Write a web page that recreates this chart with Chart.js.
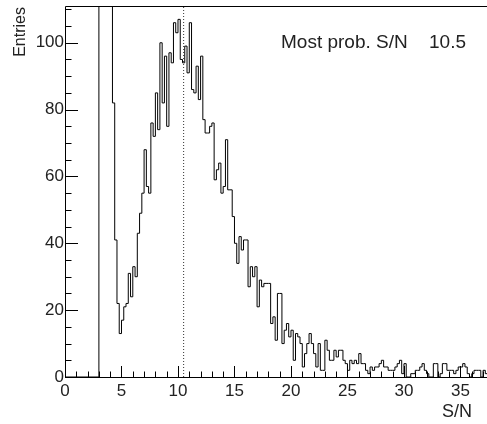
<!DOCTYPE html>
<html lang="en">
<head>
<meta charset="UTF-8">
<title>S/N distribution</title>
<script src="https://cdn.jsdelivr.net/npm/chart.js"></script>
<style>
  body { margin: 0; background: #fff; }
  #wrap { width: 487px; height: 424px; }
</style>
</head>
<body>
<div id="wrap"><canvas id="snChart"></canvas></div>
<script>
    // histogram of S/N, bins of 0.2 starting at 3.0 (first six bins are off scale)
    const binStart = 3.0
    const binWidth = 0.2
    const counts = [
        460, 330, 240, 180, 140, 118,
        82, 41, 22, 13, 17, 21, 22, 31, 24, 33,
        30, 43, 49, 55, 68, 57, 55, 76, 72, 85,
        74, 100, 82, 96, 75, 97, 94, 106, 103, 107,
        95, 94, 99, 91, 106, 86, 85, 93, 83, 96,
        77, 73, 73, 75, 76, 59, 62, 64, 55, 57,
        71, 56, 56, 48, 40, 34, 42, 38, 41, 41,
        27, 33, 30, 33, 21, 29, 27, 28, 28, 28,
        16, 18, 11, 25, 25, 10, 14, 16, 12, 14,
        5, 13, 12, 10, 3, 7, 10, 13, 10, 7,
        3, 10, 2, 2, 11, 8, 5, 5, 8, 6,
        8, 8, 5, 4, 2, 5, 4, 5, 4, 7,
        4, 4, 2, 1, 3, 2, 3, 3, 4, 5,
        3, 3, 2, 2, 2, 3, 4, 5, 1, 4,
        0, 0, 1, 1, 2, 2, 3, 4, 2, 1,
        0, 0, 4, 4, 0, 1, 4, 4, 2, 2,
        2, 1, 2, 3, 3, 4, 3, 1, 0, 1,
        2, 2, 2, 0, 2, 1
    ]
    const mostProbable = 10.5
    const xTicks = [0, 5, 10, 15, 20, 25, 30, 35]
    const yTicks = [0, 20, 40, 60, 80, 100]
    const xMax = 37.35
    const yMax = 111

    const FONT = "'Liberation Sans', Arial, sans-serif"

    // step outline: one point per lower bin edge, plus the last upper edge
    const points = [{ x: 0, y: 0 }]
    counts.forEach((c, i) => points.push({ x: +(binStart + i * binWidth).toFixed(2), y: c }))
    points.push({ x: +(binStart + counts.length * binWidth).toFixed(2), y: counts[counts.length - 1] })

    // frame, inward ticks and the text boxes, ROOT style
    const rootFrame = {
        id: 'rootFrame',
        afterDatasetsDraw(chart) {
            const { ctx, chartArea: a, scales: { x, y } } = chart
            ctx.save()
            ctx.strokeStyle = '#000'
            ctx.lineWidth = 1
            ctx.beginPath()
            ctx.moveTo(a.right, a.top + 0.5)
            ctx.lineTo(a.left + 0.5, a.top + 0.5)
            ctx.lineTo(a.left + 0.5, a.bottom + 0.5)
            ctx.lineTo(a.right, a.bottom + 0.5)
            ctx.stroke()

            ctx.beginPath()
            for (let v = 0; v <= yMax; v += 5) {
                const py = Math.round(y.getPixelForValue(v)) + 0.5
                const len = v % 20 === 0 ? 13 : 6.5
                ctx.moveTo(a.left, py)
                ctx.lineTo(a.left + len, py)
            }
            for (let v = 0; v <= xMax; v += 1) {
                const px = Math.round(x.getPixelForValue(v)) + 0.5
                const len = v % 5 === 0 ? 11 : 5.5
                ctx.moveTo(px, a.bottom)
                ctx.lineTo(px, a.bottom - len)
            }
            ctx.stroke()
            ctx.restore()
        },
        afterDraw(chart) {
            const { ctx } = chart
            ctx.save()
            ctx.fillStyle = '#222'

            ctx.font = '19px ' + FONT
            ctx.textBaseline = 'alphabetic'
            ctx.textAlign = 'left'
            ctx.fillText('Most prob. S/N', 281, 48)
            ctx.textAlign = 'right'
            ctx.fillText(mostProbable.toFixed(1), 466, 48)

            ctx.font = '18px ' + FONT
            ctx.fillText('S/N', 472, 417)

            ctx.font = '16px ' + FONT
            ctx.translate(25, 7)
            ctx.rotate(-Math.PI / 2)
            ctx.textAlign = 'right'
            ctx.fillText('Entries', 0, 0)
            ctx.restore()
        }
    }

    // drop the half-label margins Chart.js keeps at the axis ends
    const noEndPadding = s => {
        s.paddingTop = 0
        s.paddingBottom = 0
        s.paddingLeft = 0
        s.paddingRight = 0
    }

    const ctx = document.getElementById('snChart')

    new Chart(ctx, {
        type: 'line',
        data: {
            datasets: [{
                data: points,
                borderColor: '#000',
                borderWidth: 1,
                pointRadius: 0,
                stepped: true,
                fill: false
            },
            {
                // most probable value marker
                data: [{ x: mostProbable, y: 0 }, { x: mostProbable, y: yMax }],
                borderColor: '#333',
                borderWidth: 1,
                borderDash: [1, 2],
                pointRadius: 0
            }]
        },
        options: {
            responsive: true,
            maintainAspectRatio: false,
            animation: false,
            layout: { padding: { top: 6, right: 0, left: 0, bottom: 0 } },
            plugins: { legend: { display: false }, tooltip: { enabled: false } },
            scales: {
                x: {
                    type: 'linear',
                    min: 0,
                    max: xMax,
                    grid: { display: false, drawTicks: false },
                    border: { display: false },
                    afterBuildTicks: s => { s.ticks = xTicks.map(v => ({ value: v })) },
                    afterFit: s => { s.height = 47; noEndPadding(s) },
                    ticks: {
                        padding: 4,
                        maxRotation: 0,
                        autoSkip: false,
                        color: '#222',
                        font: { family: FONT, size: 17 }
                    }
                },
                y: {
                    min: 0,
                    max: yMax,
                    grid: { display: false, drawTicks: false },
                    border: { display: false },
                    afterBuildTicks: s => { s.ticks = yTicks.map(v => ({ value: v })) },
                    afterFit: s => { s.width = 65; noEndPadding(s) },
                    ticks: {
                        padding: 1,
                        color: '#222',
                        font: { family: FONT, size: 17 }
                    }
                }
            }
        },
        plugins: [rootFrame]
    })
</script>
</body>
</html>
